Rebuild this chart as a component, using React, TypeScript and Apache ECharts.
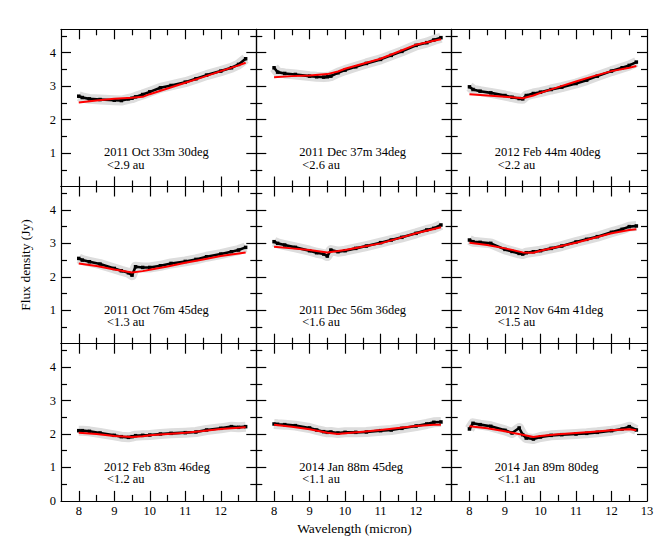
import React, { useEffect, useRef } from "react";
import * as echarts from "echarts";

// Wavelengths (micron) at which the measured spectra are sampled
const WAVELENGTH = [8.0, 8.1, 8.3, 8.6, 9.0, 9.2, 9.4, 9.5, 9.6, 9.8, 10.0, 10.3, 10.6, 11.0, 11.3, 11.6, 12.0, 12.3, 12.5, 12.7];
// Wavelengths (micron) of the model curve
const MODEL_WAVELENGTH = [8.0, 8.5, 9.0, 9.5, 9.8, 10.0, 10.5, 11.0, 11.5, 12.0, 12.5, 12.7];

// Measured flux density (Jy)
const FLUX_2011_OCT_33M = [2.70, 2.66, 2.62, 2.60, 2.58, 2.57, 2.62, 2.64, 2.68, 2.75, 2.83, 2.95, 3.02, 3.12, 3.22, 3.33, 3.45, 3.55, 3.65, 3.82];
const FLUX_2011_DEC_37M = [3.55, 3.42, 3.38, 3.35, 3.30, 3.28, 3.27, 3.28, 3.30, 3.40, 3.48, 3.58, 3.68, 3.80, 3.92, 4.04, 4.22, 4.30, 4.38, 4.45];
const FLUX_2012_FEB_44M = [2.98, 2.90, 2.85, 2.80, 2.72, 2.67, 2.63, 2.62, 2.72, 2.78, 2.82, 2.90, 2.97, 3.08, 3.18, 3.30, 3.45, 3.55, 3.62, 3.72];
const FLUX_2011_OCT_76M = [2.55, 2.50, 2.45, 2.38, 2.25, 2.18, 2.12, 2.05, 2.30, 2.28, 2.28, 2.33, 2.40, 2.46, 2.52, 2.60, 2.68, 2.75, 2.80, 2.88];
const FLUX_2011_DEC_56M = [3.05, 3.00, 2.95, 2.88, 2.78, 2.72, 2.68, 2.62, 2.80, 2.75, 2.78, 2.85, 2.92, 3.02, 3.10, 3.18, 3.30, 3.40, 3.45, 3.55];
const FLUX_2012_NOV_64M = [3.10, 3.05, 3.03, 3.00, 2.82, 2.76, 2.70, 2.68, 2.72, 2.75, 2.78, 2.85, 2.92, 3.04, 3.12, 3.20, 3.33, 3.42, 3.50, 3.52];
const FLUX_2012_FEB_83M = [2.10, 2.10, 2.08, 2.03, 1.96, 1.92, 1.90, 1.92, 1.95, 1.96, 1.97, 2.00, 2.02, 2.04, 2.06, 2.12, 2.17, 2.22, 2.20, 2.22];
const FLUX_2014_JAN_88M = [2.30, 2.29, 2.28, 2.25, 2.18, 2.12, 2.07, 2.05, 2.06, 2.03, 2.05, 2.05, 2.06, 2.10, 2.12, 2.17, 2.24, 2.30, 2.35, 2.36];
const FLUX_2014_JAN_89M = [2.15, 2.32, 2.28, 2.23, 2.11, 2.03, 2.18, 1.98, 1.88, 1.85, 1.91, 1.96, 1.98, 2.00, 2.02, 2.05, 2.10, 2.15, 2.22, 2.12];

// Model flux density (Jy)
const MODEL_2011_OCT_33M = [2.51, 2.57, 2.62, 2.65, 2.68, 2.76, 2.93, 3.10, 3.27, 3.45, 3.62, 3.70];
const MODEL_2011_DEC_37M = [3.27, 3.30, 3.32, 3.36, 3.44, 3.52, 3.67, 3.82, 4.03, 4.24, 4.36, 4.40];
const MODEL_2012_FEB_44M = [2.76, 2.72, 2.68, 2.64, 2.72, 2.80, 2.97, 3.14, 3.30, 3.45, 3.55, 3.60];
const MODEL_2011_OCT_76M = [2.40, 2.32, 2.22, 2.13, 2.17, 2.21, 2.31, 2.42, 2.52, 2.62, 2.70, 2.73];
const MODEL_2011_DEC_56M = [2.90, 2.85, 2.80, 2.73, 2.77, 2.80, 2.90, 3.00, 3.15, 3.30, 3.43, 3.48];
const MODEL_2012_NOV_64M = [3.02, 2.95, 2.85, 2.73, 2.72, 2.78, 2.90, 3.02, 3.16, 3.30, 3.40, 3.42];
const MODEL_2012_FEB_83M = [2.04, 2.00, 1.94, 1.91, 1.93, 1.96, 2.00, 2.04, 2.09, 2.15, 2.19, 2.20];
const MODEL_2014_JAN_88M = [2.28, 2.22, 2.14, 2.04, 2.00, 2.02, 2.07, 2.12, 2.18, 2.24, 2.28, 2.28];
const MODEL_2014_JAN_89M = [2.23, 2.17, 2.08, 1.98, 1.91, 1.94, 1.99, 2.03, 2.07, 2.11, 2.14, 2.11];

const PANEL_TITLES = [
  "2011 Oct 33m 30deg", "2011 Dec 37m 34deg", "2012 Feb 44m 40deg",
  "2011 Oct 76m 45deg", "2011 Dec 56m 36deg", "2012 Nov 64m 41deg",
  "2012 Feb 83m 46deg", "2014 Jan 88m 45deg", "2014 Jan 89m 80deg",
];
const PANEL_LIMITS = ["<2.9 au", "<2.6 au", "<2.2 au", "<1.3 au", "<1.6 au", "<1.5 au", "<1.2 au", "<1.1 au", "<1.1 au"];

const X_MAJOR_TICKS = [8, 9, 10, 11, 12];
const X_LAST_COLUMN_LABELS = [8, 9, 10, 11, 12, 13];
const X_MINOR_TICKS = [8.5, 9.5, 10.5, 11.5, 12.5];
const Y_MAJOR_TICKS = [1, 2, 3, 4];
const Y_BOTTOM_ROW_LABELS = [0, 1, 2, 3, 4];
const Y_MINOR_TICKS = [0.5, 1.5, 2.5, 3.5, 4.5];

const X_TITLE = "Wavelength (micron)";
const Y_TITLE = "Flux density (Jy)";

const FLUXES = [
  FLUX_2011_OCT_33M, FLUX_2011_DEC_37M, FLUX_2012_FEB_44M,
  FLUX_2011_OCT_76M, FLUX_2011_DEC_56M, FLUX_2012_NOV_64M,
  FLUX_2012_FEB_83M, FLUX_2014_JAN_88M, FLUX_2014_JAN_89M,
];
const MODELS = [
  MODEL_2011_OCT_33M, MODEL_2011_DEC_37M, MODEL_2012_FEB_44M,
  MODEL_2011_OCT_76M, MODEL_2011_DEC_56M, MODEL_2012_NOV_64M,
  MODEL_2012_FEB_83M, MODEL_2014_JAN_88M, MODEL_2014_JAN_89M,
];

// layout
const COL_LEFT = [61, 256.3, 451.7];
const ROW_TOP = [29.3, 186.5, 343.7];
const PANEL_W = 195.3;
const PANEL_H = 157.2;
const FONT = "Liberation Serif";
const AXIS_LINE = { color: "#000", width: 1.2 };

function buildOption() {
  const grid: any[] = [];
  const xAxis: any[] = [];
  const yAxis: any[] = [];
  const series: any[] = [];
  const graphic: any[] = [];

  for (let p = 0; p < 9; p++) {
    const r = Math.floor(p / 3);
    const c = p % 3;
    const rect = { left: COL_LEFT[c], top: ROW_TOP[r], width: PANEL_W, height: PANEL_H };
    // major grid (2p) and minor grid (2p+1), same rectangle
    grid.push({ ...rect, containLabel: false });
    grid.push({ ...rect, containLabel: false });

    const xLabels = r === 2 ? (c === 2 ? X_LAST_COLUMN_LABELS : X_MAJOR_TICKS) : [];
    const yLabels = c === 0 ? (r === 2 ? Y_BOTTOM_ROW_LABELS : Y_MAJOR_TICKS) : [];

    const labelStyle = { color: "#000", fontFamily: FONT, fontSize: 12.5 };

    for (let k = 0; k < 2; k++) {
      const gridIndex = 2 * p + k;
      const major = k === 0;
      const tickValues = major ? X_MAJOR_TICKS : X_MINOR_TICKS;
      const yTickValues = major ? Y_MAJOR_TICKS : Y_MINOR_TICKS;
      ["bottom", "top"].forEach((pos, j) => {
        const showLab = major && j === 0 && xLabels.length > 0;
        xAxis.push({
          type: "value",
          gridIndex,
          position: pos,
          min: 7.5,
          max: 13,
          splitLine: { show: false },
          axisLine: { show: major, onZero: false, lineStyle: AXIS_LINE },
          axisTick: { show: true, inside: true, length: major ? 10 : 6, lineStyle: AXIS_LINE, customValues: tickValues },
          axisLabel: showLab
            ? { show: true, margin: 4, customValues: xLabels, ...labelStyle }
            : { show: false },
        });
      });
      ["left", "right"].forEach((pos, j) => {
        const showLab = major && j === 0 && yLabels.length > 0;
        yAxis.push({
          type: "value",
          gridIndex,
          position: pos,
          min: 0,
          max: 4.7,
          splitLine: { show: false },
          axisLine: { show: major, onZero: false, lineStyle: AXIS_LINE },
          axisTick: { show: true, inside: true, length: major ? 10 : 6, lineStyle: AXIS_LINE, customValues: yTickValues },
          axisLabel: showLab
            ? { show: true, margin: 5, customValues: yLabels, ...labelStyle }
            : { show: false },
        });
      });
    }

    const axisIdx = 4 * p;
    const measured = WAVELENGTH.map((w, i) => [w, FLUXES[p][i]]);
    const model = MODEL_WAVELENGTH.map((w, i) => [w, MODELS[p][i]]);

    series.push({
      type: "line",
      xAxisIndex: axisIdx,
      yAxisIndex: axisIdx,
      data: measured,
      showSymbol: false,
      symbol: "none",
      lineStyle: { color: "#dddddd", width: 10, cap: "butt", join: "round" },
      z: 1,
      silent: true,
    });
    series.push({
      type: "line",
      xAxisIndex: axisIdx,
      yAxisIndex: axisIdx,
      data: measured,
      symbol: "rect",
      symbolSize: 3.5,
      itemStyle: { color: "#000" },
      lineStyle: { color: "#000", width: 2.6, join: "round" },
      z: 2,
      silent: true,
    });
    series.push({
      type: "line",
      xAxisIndex: axisIdx,
      yAxisIndex: axisIdx,
      data: model,
      symbol: "none",
      lineStyle: { color: "#ff0000", width: 2 },
      z: 3,
      silent: true,
    });

    graphic.push({
      type: "text",
      x: COL_LEFT[c] + 43,
      y: ROW_TOP[r] + 123,
      style: { text: PANEL_TITLES[p], fill: "#000", fontFamily: FONT, fontSize: 12.5, verticalAlign: "middle", textVerticalAlign: "middle" },
    });
    graphic.push({
      type: "text",
      x: COL_LEFT[c] + 46,
      y: ROW_TOP[r] + 135.7,
      style: { text: PANEL_LIMITS[p], fill: "#000", fontFamily: FONT, fontSize: 12.5, verticalAlign: "middle", textVerticalAlign: "middle" },
    });
  }

  graphic.push({
    type: "text",
    x: 25,
    y: 265,
    rotation: Math.PI / 2,
    style: { text: Y_TITLE, fill: "#000", fontFamily: FONT, fontSize: 13.5, align: "center", textAlign: "center", verticalAlign: "middle", textVerticalAlign: "middle" },
  });
  graphic.push({
    type: "text",
    x: 354.5,
    y: 528.5,
    style: { text: X_TITLE, fill: "#000", fontFamily: FONT, fontSize: 13.5, align: "center", textAlign: "center", verticalAlign: "middle", textVerticalAlign: "middle" },
  });

  return {
    animation: false,
    backgroundColor: "#fff",
    grid,
    xAxis,
    yAxis,
    series,
    graphic,
  };
}

export default function App() {
  const ref = useRef<HTMLDivElement>(null);
  useEffect(() => {
    if (!ref.current) return;
    const chart = echarts.init(ref.current, undefined, { renderer: "svg" });
    chart.setOption(buildOption());
    return () => chart.dispose();
  }, []);
  return (
    <div
      ref={ref}
      style={{ position: "fixed", left: 0, top: 0, width: 667, height: 549 }}
    />
  );
}
